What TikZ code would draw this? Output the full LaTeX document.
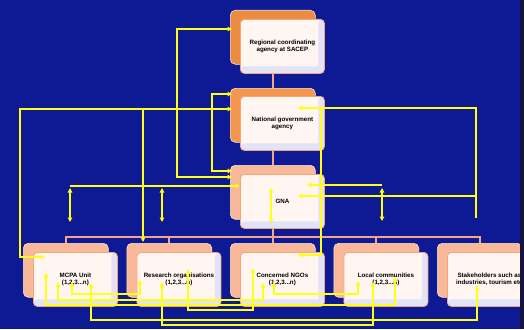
\documentclass[tikz,border=0pt]{standalone}
\usepackage{fontspec}
\setmainfont{Liberation Sans}
\usetikzlibrary{arrows.meta,calc}
\definecolor{bg}{HTML}{0E1A94}
\definecolor{orangeA}{HTML}{EC8A40}
\definecolor{orangeB}{HTML}{F5964E}
\definecolor{peach}{HTML}{F9B898}
\definecolor{treec}{HTML}{F2A587}
\definecolor{frontedge}{HTML}{F3A57E}
\definecolor{frontfill}{HTML}{FFF5F1}
\definecolor{band}{HTML}{E2E3F6}
\definecolor{yl}{HTML}{FFFF14}
\definecolor{edgestrip}{HTML}{14143C}
\tikzset{
  backbox/.style={draw=white!80!orange, line width=0.6pt, rounded corners=5pt,
    anchor=north west, minimum width=85pt, minimum height=54pt, inner sep=0pt},
  frontbox/.style={draw=frontedge, line width=0.8pt, rounded corners=4pt,
    anchor=north west, minimum width=84pt, minimum height=54pt, inner sep=0pt,
    fill=frontfill, align=center, font=\fontsize{6.2}{7.6}\selectfont\bfseries,
    path picture={
      \fill[band] ([xshift=-6pt]path picture bounding box.north east) rectangle (path picture bounding box.south east);
      \fill[band] ([yshift=7pt]path picture bounding box.south west) rectangle (path picture bounding box.south east);
    }},
  treeline/.style={draw=treec, line width=2pt},
  ylw/.style={draw=yl, line width=1.3pt, line join=miter},
  >={Triangle[width=4.5pt,length=4.5pt]}
}
\begin{document}
\begin{tikzpicture}[x=1pt,y=-1pt]
\useasboundingbox (0,0) rectangle (524,329);
\fill[bg] (0,0) rectangle (524,329);

% back boxes
\node[backbox, fill=orangeA] (regB) at (230,10) {};
\node[backbox, fill=orangeB] (natB) at (230,88) {};
\node[backbox, fill=peach] (gnaB) at (230,165) {};
\node[backbox, fill=peach] (b1B) at (23,243) {};
\node[backbox, fill=peach] (b2B) at (126.5,243) {};
\node[backbox, fill=peach] (b3B) at (230,243) {};
\node[backbox, fill=peach] (b4B) at (333.5,243) {};
\node[backbox, fill=peach] (b5B) at (437,243) {};

% tree lines
\coordinate (bus) at (0,237);
\draw[treeline] (regB.south) -- (natB.north);
\draw[treeline] (natB.south) -- (gnaB.north);
\draw[treeline] (gnaB.south) -- (gnaB.south |- bus);
\draw[treeline] (b1B.north) -- (b1B.north |- bus) -- (b5B.north |- bus) -- (b5B.north);
\draw[treeline] (b2B.north) -- (b2B.north |- bus);
\draw[treeline] (b3B.north) -- (b3B.north |- bus);
\draw[treeline] (b4B.north) -- (b4B.north |- bus);

% front boxes
\node[frontbox] (reg) at (240,19) {Regional coordinating\\agency at SACEP};
\node[frontbox] (nat) at (240,96) {National government\\agency};
\node[frontbox] (gna) at (240,174) {GNA};
\node[frontbox] (b1) at (33,252) {MCPA Unit\\(1,2,3...n)};
\node[frontbox] (b2) at (136.5,252) {Research organisations\\(1,2,3...n)};
\node[frontbox] (b3) at (240,252) {Concerned NGOs\\(1,2,3...n)};
\node[frontbox] (b4) at (343.5,252) {Local communities\\(1,2,3...n)};
\node[frontbox] (b5) at (447,252) {Stakeholders such as\\industries, tourism etc};

% yellow connectors - upper part
\draw[ylw,<->] (232,29) -- (177,29) -- (177,177) -- (232,177);
\draw[ylw,<->] (232,94) -- (212,94) -- (212,171) -- (232,171);
\draw[ylw,<->] (232,109) -- (20,109) -- (20,257) -- (45,257);
\draw[ylw,->] (143,109) -- (143,242);
\draw[ylw,<-] (298,108) -- (476,108) -- (476,218);
\draw[ylw,->] (476,196) -- (298,196);
\draw[ylw,->] (321,108) -- (321,255) -- (298,255);
\draw[ylw,->] (70,186) -- (240,186);
\draw[ylw,->] (382,185) -- (307,185);
\draw[ylw,<->] (70,188) -- (70,222);
\draw[ylw,<->] (162,188) -- (162,222);
\draw[ylw,<->] (271,188) -- (271,223);
\draw[ylw,<->] (382,188) -- (382,221);

% yellow connectors - lower part
\draw[ylw,<->] (72,282) -- (72,294) -- (140,294) -- (140,280);
\draw[ylw,<->] (46,273) -- (46,305) -- (395,305) -- (395,277);
\draw[ylw,<->] (58,282) -- (58,300) -- (263,300) -- (263,283);
\draw[ylw,<->] (91,283) -- (91,320) -- (477,320) -- (477,285);
\draw[ylw,<->] (188,269) -- (188,310) -- (253,310) -- (253,268);
\draw[ylw,<->] (162,282) -- (162,325) -- (373,325) -- (373,282);
\draw[ylw,<->] (274,282) -- (274,294) -- (358,294) -- (358,281);

% right edge strip
\fill[edgestrip] (520,0) rectangle (524,329);
\end{tikzpicture}
\end{document}
